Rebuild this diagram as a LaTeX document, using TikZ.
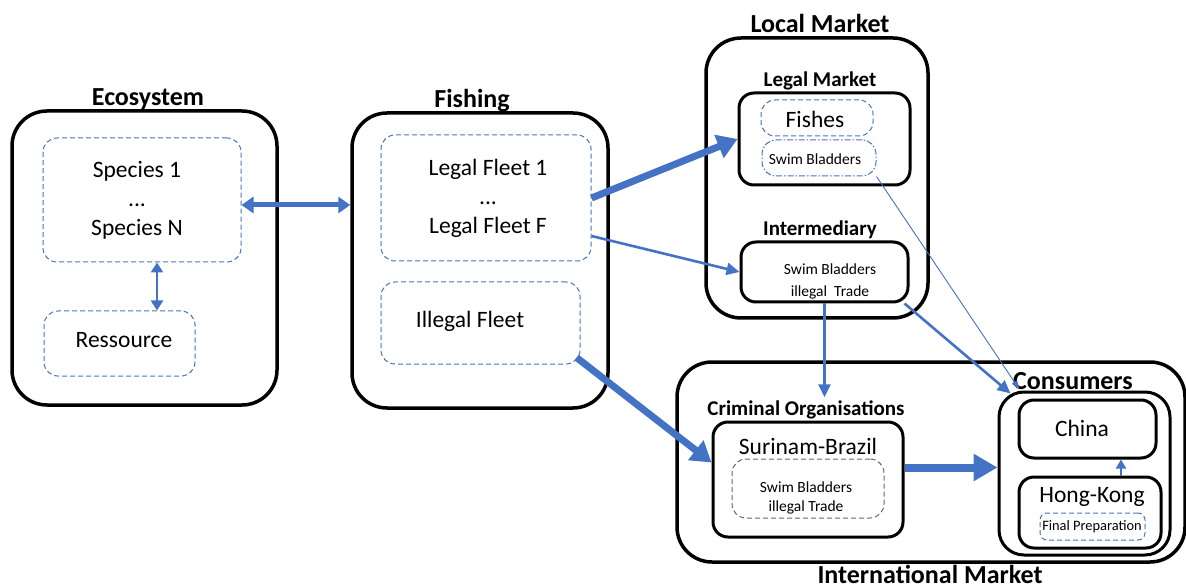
\documentclass[tikz,border=0pt]{standalone}
\usepackage{fontspec}
\setmainfont{Carlito}
\usetikzlibrary{arrows.meta,positioning}
\definecolor{flowblue}{HTML}{4472C4}
\definecolor{dashblue}{HTML}{4A72BA}

\tikzset{
  bigbox/.style={draw, line width=3.5pt, rounded corners=35pt, inner sep=0pt},
  subbox/.style={draw, line width=3pt, rounded corners=15pt, inner sep=0pt, align=center},
  dashbox/.style={draw=dashblue, line width=1pt, dash pattern=on 5pt off 3pt,
    rounded corners=14pt, inner sep=0pt, align=center},
  boxtitle/.style={font=\bfseries\fontsize{26}{28}\selectfont},
  subtitle/.style={font=\bfseries\fontsize{21}{23}\selectfont},
  bigtext/.style={font=\fontsize{23.5}{29}\selectfont, align=center},
  smalltext/.style={font=\fontsize{15.5}{21}\selectfont, align=center},
  fatarrow/.style={flowblue, line width=7pt, -{Triangle[length=20pt,width=24pt]}},
  midarrow/.style={flowblue, line width=2.6pt, -{Triangle[length=13pt,width=12pt]}},
  thinarrow/.style={flowblue, line width=0.9pt, -{Triangle[length=9pt,width=6pt]}},
}

\begin{document}
\begin{tikzpicture}[x=1pt, y=-1pt]
    \useasboundingbox (0,0) rectangle (1186,585);

    % Ecosystem
    \node[bigbox, minimum width=265pt, minimum height=294pt] (eco) at (144.5,258) {};
    \node[boxtitle] (ecotitle) at (148,99) {Ecosystem};
    \node[dashbox, minimum width=198pt, minimum height=124pt] (species) at (142,200) {};
    \node[bigtext] (spectext) at (137,200) {Species 1\\...\\Species N};
    \node[dashbox, minimum width=151pt, minimum height=65pt] (ress) at (119.5,343.5) {};
    \node[bigtext] (resstext) at (124,340) {Ressource};

    % Fishing
    \node[bigbox, minimum width=256pt, minimum height=295pt] (fish) at (480,260.5) {};
    \node[boxtitle] (fishtitle) at (472,101) {Fishing};
    \node[dashbox, minimum width=210pt, minimum height=126pt] (legal) at (486,198) {};
    \node[bigtext] (legaltext) at (488,198) {Legal Fleet 1\\...\\Legal Fleet F};
    \node[dashbox, minimum width=199pt, minimum height=82pt] (illegal) at (480.5,323) {};
    \node[bigtext] (illegaltext) at (470,321) {Illegal Fleet};

    % Local market
    \node[bigbox, minimum width=222pt, minimum height=280pt] (local) at (817,178) {};
    \node[boxtitle] (localtitle) at (820,23) {Local Market};
    \node[subtitle] (legalmkttitle) at (820,81) {Legal Market};
    \node[subbox, minimum width=171pt, minimum height=92pt] (legalmkt) at (824.5,139) {};
    \node[dashbox, minimum width=112pt, minimum height=36pt] (fishes) at (817,118) {};
    \node[bigtext] (fishestext) at (815,119) {Fishes};
    \node[dashbox, dash pattern=on 6pt off 2pt on 1.5pt off 2pt, minimum width=114pt, minimum height=36pt] (swimb) at (819,158) {};
    \node[smalltext] (swimbtext) at (815,159) {Swim Bladders};
    \node[subtitle] (intertitle) at (820,230) {Intermediary};
    \node[subbox, minimum width=167pt, minimum height=60pt] (inter) at (824.5,272) {};
    \node[smalltext, font=\fontsize{15.5}{22}\selectfont] (intertext) at (830,281) {Swim Bladders\\illegal~~Trade};

    % International market
    \node[bigbox, minimum width=508pt, minimum height=200pt] (intl) at (931,462) {};
    \node[boxtitle] (intltitle) at (930,574) {International Market};
    \node[subtitle] (crimtitle) at (806,410) {Criminal Organisations};
    \node[subbox, minimum width=190pt, minimum height=115pt] (crim) at (808,479.5) {};
    \node[bigtext] (crimtext) at (808,446) {Surinam-Brazil};
    \node[dashbox, draw=gray!80!black, minimum width=152pt, minimum height=59pt] (crimswim) at (808,488.5) {};
    \node[smalltext, font=\fontsize{15.5}{19}\selectfont] (crimswimtext) at (806,498) {Swim Bladders\\illegal Trade};

    % Consumers
    \node[subbox, minimum width=171pt, minimum height=163pt, rounded corners=25pt] (cons) at (1084.5,473.5) {};
    \node[boxtitle] (constitle) at (1073,381) {Consumers};
    \node[subbox, minimum width=137pt, minimum height=58pt] (china) at (1087.5,429) {};
    \node[bigtext] (chinatext) at (1082,428) {China};
    \node[subbox, minimum width=142pt, minimum height=71pt] (hk) at (1090,512.5) {};
    \node[bigtext] (hktext) at (1092,497) {Hong-Kong};
    \node[dashbox, minimum width=105pt, minimum height=27pt, rounded corners=7pt] (finalprep) at (1092.5,526.5) {};
    \node[font=\fontsize{14.4}{16}\selectfont] (finaltext) at (1092,526.5) {Final Preparation};

    % Flows
    \draw[flowblue, line width=5pt, {Triangle[length=12pt,width=16pt]}-{Triangle[length=12pt,width=16pt]}]
        ([yshift=-5pt]species.east) -- ([yshift=-5pt]species.east -| fish.west);
    \draw[flowblue, line width=2.6pt, {Triangle[length=10pt,width=12pt]}-{Triangle[length=10pt,width=12pt]}]
        ([xshift=15pt]species.south) -- ([xshift=15pt]species.south |- ress.north);
    \draw[fatarrow] (legal.east) -- (legalmkt.west);
    \draw[midarrow] ([yshift=-38pt]legal.east) -- (inter.west);
    \draw[fatarrow] ([xshift=-4pt,yshift=7pt]illegal.south east) -- ([yshift=17pt]crim.west);
    \draw[midarrow] (inter.south) -- (inter.south |- crimtitle.north);
    \draw[midarrow] ([xshift=-5pt]inter.south east) -- ([xshift=13pt,yshift=-3pt]cons.north west);
    \draw[thinarrow] (swimb.south east) -- ([xshift=22pt,yshift=1pt]cons.north west);
    \draw[flowblue, line width=8pt, -{Triangle[length=24pt,width=26pt]}]
        ([yshift=12pt]crim.east) -- ([yshift=12pt]crim.east -| cons.west);
    \draw[flowblue, line width=2pt, -{Triangle[length=9pt,width=10pt]}]
        ([xshift=31pt]hk.north) -- ([xshift=31pt]hk.north |- china.south);
\end{tikzpicture}
\end{document}
